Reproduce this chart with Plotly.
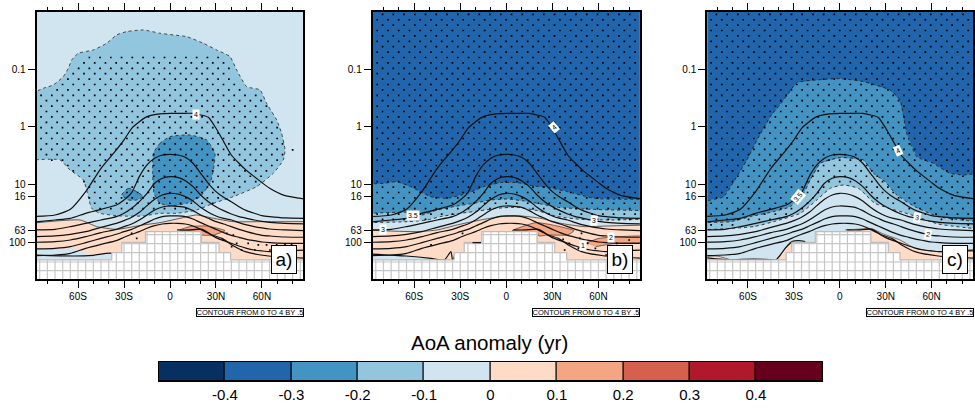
import plotly.graph_objects as go

# ---------- shared values (latitude in degrees, pressure as log10 hPa) ----------
LAT_ISO = [-90,-75,-65,-55,-45,-35,-30,-25,-20,-15,-10,-5,0,5,10,15,20,25,30,35,40,45,50,55,60,65,75,90]
ISO_40 = [1.555,1.526,1.428,1.121,.717,.399,.225,.023,-.092,-.179,-.214,-.231,-.237,-.237,-.237,-.237,-.208,-.168,.023,.254,.486,.63,.757,.861,.965,1.064,1.191,1.254]
ISO_35 = [1.653,1.613,1.584,1.497,1.428,1.353,1.266,1.139,.861,.659,.543,.486,.474,.486,.526,.63,.803,.977,1.121,1.22,1.295,1.382,1.451,1.497,1.538,1.555,1.578,1.584]
ISO_30 = [1.786,1.775,1.728,1.671,1.613,1.555,1.497,1.41,1.295,1.15,.977,.89,.861,.873,.931,1.035,1.179,1.295,1.382,1.451,1.509,1.555,1.584,1.613,1.636,1.653,1.671,1.682]
ISO_25 = [1.902,1.89,1.861,1.815,1.74,1.671,1.624,1.566,1.48,1.364,1.254,1.179,1.15,1.162,1.208,1.283,1.393,1.48,1.543,1.584,1.613,1.659,1.699,1.728,1.751,1.769,1.786,1.798]
ISO_20 = [2.0,1.988,1.96,1.902,1.832,1.775,1.728,1.682,1.613,1.526,1.439,1.387,1.37,1.376,1.393,1.451,1.526,1.584,1.642,1.682,1.728,1.775,1.815,1.85,1.879,1.89,1.908,1.913]
ISO_15 = [2.116,2.104,2.075,2.006,1.931,1.861,1.815,1.775,1.717,1.659,1.595,1.555,1.543,1.543,1.555,1.595,1.659,1.717,1.775,1.832,1.879,1.913,1.948,1.971,1.994,2.006,2.017,2.017]
ISO_10 = [2.231,2.22,2.191,2.104,2.035,1.971,1.913,1.861,1.815,1.757,1.711,1.682,1.671,1.671,1.682,1.717,1.775,1.844,1.919,1.971,2.017,2.064,2.104,2.133,2.15,2.162,2.145,2.133]
ISO_05N_LAT = [4.6,12.2,20.9,27.4,33.9,40.4,49.1,64.3,90]
ISO_05N = [1.786,1.786,1.775,1.873,1.931,2.046,2.162,2.237,2.277]
# the southern low-level isoline differs from panel to panel
A_05S_LAT = [-90,-63,-50,-38,-34.8]
A_05S = [2.22,2.237,2.225,2.191,2.306]
B_05S_LAT = [-90,-65.4,-49.1,-40.4,-36.1,-35,-33]
B_05S = [2.2,2.237,2.277,2.306,2.162,2.306,2.17]
B_05D_LAT = [-22,-16.5]
B_05D = [2.006,2.006]
C_05S_LAT = [-90,-71.5,-63.9,-48.7,-41.7,-35.7,-31.3,-27,-22.6]
C_05S = [2.26,2.306,2.295,2.295,2.306,2.104,1.988,1.971,1.988]

# colours
C_M05, C_M04, C_M03, C_M02, C_M01 = "#053061", "#2166ac", "#4393c3", "#92c5de", "#d1e5f0"
C_P01, C_P02, C_P03, C_P04, C_P05 = "#fddbc7", "#f4a582", "#d6604d", "#b2182b", "#67001f"
BAR_CENTERS = [-.45,-.35,-.25,-.15,-.05,.05,.15,.25,.35,.45]
BAR_COLORS = [C_M05,C_M04,C_M03,C_M02,C_M01,C_P01,C_P02,C_P03,C_P04,C_P05]
BAR_TICKS = [-.4,-.3,-.2,-.1,0,.1,.2,.3,.4]
BAR_LABELS = ["-0.4","-0.3","-0.2","-0.1","0","0.1","0.2","0.3","0.4"]

LAT_TICKS = [-60,-30,0,30,60]
LAT_LABELS = ["60S","30S","0","30N","60N"]
LAT_MINOR = [-80,-70,-60,-50,-40,-30,-20,-10,0,10,20,30,40,50,60,70,80]
P_TICKS = [0.1,1,10,16,63,100]
P_LABELS = ["0.1","1","10","16","63","100"]

# terrain mask
TERRAIN_TOP = [2.306,2.18,2.0,1.815,2.0,2.18,2.306]
A_TERRAIN_LAT = [-38,-31.5,-16,20.5,32,39.5]
B_TERRAIN_LAT = [-34,-27.4,-16,20.2,31.5,39.3]
C_TERRAIN_LAT = [-35,-31.3,-16,20.3,31.7,39.3]
MESH_LATS = [-85,-80,-75,-70,-65,-60,-55,-50,-45,-40,-35,-30,-25,-20,-15,-10,-5,0,5,10,15,20,25,30,35,40,45,50,55,60,65,70,75,80,85]
MESH_ROWS = [1.867,2.023,2.18,2.341,2.491]

# stipple lattice
STIP_ROWS = [-1.953,-1.859,-1.766,-1.672,-1.578,-1.485,-1.391,-1.298,-1.204,-1.11,-1.017,-.923,-.83,-.736,-.642,-.549,-.455,-.362,-.268,-.174,-.081,.013,.106,.2,.294,.387,.481,.574,.668,.762,.855,.949,1.042,1.136,1.23,1.323,1.417,1.51,1.604,1.698,1.791]
STIP_EVEN = [-80.6,-73.6,-66.6,-59.6,-52.6,-45.6,-38.6,-31.6,-24.6,-17.6,-10.6,-3.6,3.4,10.4,17.4,24.4,31.4,38.4,45.4,52.4,59.4,66.4,73.4,80.4]
STIP_ODD = [-84.1,-77.1,-70.1,-63.1,-56.1,-49.1,-42.1,-35.1,-28.1,-21.1,-14.1,-7.1,-.1,6.9,13.9,20.9,27.9,34.9,41.9,48.9,55.9,62.9,69.9,76.9,83.9]

# panel a
A_M01_LAT = [-90,-82.6,-76.1,-69.6,-66.3,-64.1,-59.8,-50,-41.3,-34.8,-28.3,-17.4,-6.5,2.2,10.9,21.7,30.4,39.1,43.5,50,58.7,63,69.6,72.8,75,73.9,67.4,56.5,41.3,28.3,17.4,4.3,-6.5,-17.4,-32.6,-45.7,-51.1,-53.3,-56.5,-65.2,-71.7,-90]
A_M01_P = [-.584,-.671,-.728,-.873,-1.017,-1.162,-1.277,-1.335,-1.451,-1.595,-1.653,-1.682,-1.624,-1.595,-1.566,-1.451,-1.335,-1.22,-.988,-.699,-.642,-.41,-.121,.11,.399,.572,.803,1.035,1.208,1.324,1.439,1.497,1.497,1.543,1.543,1.497,1.41,1.208,.919,.746,.572,.572]
A_M02_LAT = [0,-6.5,-10.9,-11.3,-10.4,-6.5,0,10.9,19.6,26.1,28.3,29.3,23.9,13]
A_M02_P = [.168,.283,.457,.803,1.15,1.324,1.37,1.324,1.208,.977,.746,.457,.225,.139]
A_M02B_LAT = [-31.5,-27.2,-21.7,-17.4,-21.7,-27.2]
A_M02B_P = [1.179,1.064,1.121,1.208,1.266,1.266]
A_P0_LAT = [-95,-58.7,-47.8,-34.8,-17.4,-6.5,6.5,17.4,28.3,41.3,58.7,95]
A_P0_P = [1.682,1.613,1.728,1.775,1.699,1.659,1.584,1.526,1.584,1.642,1.642,1.642]
A_P0L_LAT = [-95,-63,-50,-38,-30]
A_P0L_P = [2.133,2.104,2.237,2.18,2.16]
A_P1_LAT = [6.5,13,23.9,35.9,28.3,20.6,18]
A_P1_P = [1.786,1.728,1.717,1.798,1.873,1.873,1.815]
A_SIG_LAT = [-56.5,28.3,39.1,41.3,50,60.9,69.6,76.1,75,63,45.7,28.3,13,-6.5,-45.7,-52.2,-53.9,-58.7,-69.6,-90,-90,-76.1,-66.3]
A_SIG_P = [-1.22,-1.249,-1.162,-.873,-.555,-.584,-.064,.283,.514,.861,1.092,1.324,1.41,1.468,1.468,1.382,1.15,.861,.63,.543,-.526,-.584,-.873]
A_DOT_LAT = [37,41.3,34.8,40.2,43.5,46.7,51,57.6,55.4,63,65.2,69.6,75,79.3,-25,-21.7,80]
A_DOT_P = [1.844,1.873,1.96,2.075,2.017,2.133,2.017,2.046,2.133,2.046,2.133,2.046,2.046,2.035,1.844,1.931,.399]

# panel b
B_B1_LAT = [-90,-79.8,-71.1,-62.4,-55.9,-49.3,-38.5,-25.4,-14.6,-3.7,7.2,18,26.7,39.8,57.2,74.6,90]
B_B1_P = [.988,.977,.948,1.035,1.121,1.208,1.237,1.15,1.035,.965,.965,1.023,1.046,1.121,1.237,1.254,1.254]
B_B2_LAT = [-90,-62.4,-54.8,-45,-32,-21.1,-10.2,.7,11.5,22.4,33.3,55,90]
B_B2_P = [1.497,1.48,1.526,1.439,1.37,1.324,1.266,1.249,1.283,1.335,1.393,1.428,1.451]
B_B3_LAT = [-90,-64.6,-51.5,-42.8,-29.8,-16.7,-5.9,7.2,20.2,33.3,48.5,65.9,90]
B_B3_P = [1.659,1.642,1.613,1.555,1.497,1.451,1.41,1.393,1.451,1.555,1.601,1.613,1.601]
B_B4_LAT = [-95,-58,-45,-32,-16.7,-3.7,9.3,22.4,35.4,50.7,65.9,95]
B_B4_P = [1.786,1.815,1.786,1.699,1.613,1.555,1.543,1.584,1.671,1.728,1.717,1.699]
B_B4L_LAT = [-95,-68,-50,-40,-25]
B_B4L_P = [2.21,2.22,2.277,2.306,2.306]
B_P1_LAT = [3.9,19.1,30,44.1,39.8,26.7,21.3,20]
B_P1_P = [1.798,1.659,1.699,1.798,1.873,1.873,1.89,1.83]
B_P2_LAT = [51.7,60.4,95,95,71.3,58.3]
B_P2_P = [2.017,1.931,1.902,1.988,2.017,2.075]
B_DOT_LAT = [49,37,41,48,38,47,58,65,53,72,80,-28.5,-49]
B_DOT_P = [1.844,1.948,2.017,1.931,2.133,2.104,2.104,2.22,2.017,2.017,1.96,1.844,2.046]

# panel c
C_B1_LAT = [-90,-75.9,-69.3,-60.7,-54.1,-45.4,-36.7,-28,-15,.2,15.4,32.8,39.3,43.7,50.2,61.1,72,80.7,90]
C_B1_P = [1.295,1.208,.948,.572,.225,-.179,-.468,-.769,-.815,-.838,-.786,-.642,-.468,.11,.514,.63,.803,.832,.803]
C_B2_LAT = [-90,-71.5,-58.5,-43.3,-32.4,-23.7,-19.3,-12.8,.2,15.4,22,29.6,37.2,49.1,64.3,90]
C_B2_P = [1.659,1.642,1.555,1.468,1.382,1.15,.919,.63,.532,.572,.803,.948,1.179,1.382,1.555,1.642]
C_B3_LAT = [-90,-56.3,-43.3,-25.9,-15,-6.3,2.4,12.2,23,47,64.3,90]
C_B3_P = [1.786,1.728,1.642,1.497,1.266,1.064,1.006,1.064,1.324,1.526,1.682,1.769]
C_P0_LAT = [3.5,10,20.9,27.4,39.3,49.1,64.3,95,95,3.5]
C_P0_P = [1.786,1.775,1.763,1.844,1.96,2.104,2.162,2.191,2.7,2.7]
C_P0B_LAT = [-41.7,-34.6,-31.7,-31,-35]
C_P0B_P = [2.306,2.075,2.006,2.2,2.306]
C_P0C_LAT = [-95,-80,-71,-95]
C_P0C_P = [2.25,2.24,2.31,2.31]
C_DOT_LAT = []
C_DOT_P = []

PX_L = [36.7, 373.5, 708.7]
PX_R = [304.0, 641.2, 975.0]
X_RANGES = [[-87, 87], [-87, 87], [-86.6, 87]]
W, H = 975, 408
FONT = "Liberation Sans"
TOP, BOTTOM = -3.0, 2.8


def pr(vals):
    return [None if v is None else 10 ** v for v in vals]


def inside(x, y, px, py):
    c = False
    n = len(px)
    j = n - 1
    for i in range(n):
        if (py[i] > y) != (py[j] > y) and x < (px[j] - px[i]) * (y - py[i]) / (py[j] - py[i]) + px[i]:
            c = not c
        j = i
    return c


fig = go.Figure()


def poly(n, lat, lp, color, dash="dot", lw=0.8, spline=True):
    fig.add_trace(go.Scatter(
        x=list(lat), y=pr(lp), mode="lines", fill="toself", fillcolor=color,
        line=dict(color="#222222", width=lw, dash=dash, shape="spline" if spline else "linear", smoothing=0.5),
        hoverinfo="skip", showlegend=False, xaxis=f"x{n}", yaxis=f"y{n}"))


def seg(n, lat, lp, width=1.2):
    fig.add_trace(go.Scatter(x=list(lat), y=pr(lp), mode="lines",
                             line=dict(color="#111111", width=width, shape="spline", smoothing=0.6),
                             hoverinfo="skip", showlegend=False, xaxis=f"x{n}", yaxis=f"y{n}"))


def band(n, lat, lp, color, dash="dot"):
    fig.add_trace(go.Scatter(x=[-95] + list(lat) + [95, 95, -95],
                             y=pr([lp[0]] + list(lp) + [lp[-1], BOTTOM, BOTTOM]),
                             mode="lines", fill="toself", fillcolor=color, line=dict(width=0),
                             hoverinfo="skip", showlegend=False, xaxis=f"x{n}", yaxis=f"y{n}"))
    fig.add_trace(go.Scatter(x=list(lat), y=pr(lp), mode="lines",
                             line=dict(color="#222222", width=0.9, dash=dash, shape="spline", smoothing=0.5),
                             hoverinfo="skip", showlegend=False, xaxis=f"x{n}", yaxis=f"y{n}"))


def wedge(n, top_lat, top_p, low_lat, low_p, color):
    xs = list(top_lat) + [95, 95] + [low_lat[-1]] + list(low_lat[::-1])
    ys = list(top_p) + [top_p[-1], BOTTOM] + [BOTTOM] + list(low_p[::-1])
    fig.add_trace(go.Scatter(x=xs, y=pr(ys), mode="lines", fill="toself", fillcolor=color, line=dict(width=0),
                             hoverinfo="skip", showlegend=False, xaxis=f"x{n}", yaxis=f"y{n}"))
    fig.add_trace(go.Scatter(x=list(top_lat), y=pr(top_p), mode="lines",
                             line=dict(color="#222222", width=0.7, shape="spline", smoothing=0.5),
                             hoverinfo="skip", showlegend=False, xaxis=f"x{n}", yaxis=f"y{n}"))


def full(n, color):
    poly(n, [-95, 95, 95, -95], [TOP, TOP, BOTTOM, BOTTOM], color, "solid", 0, False)


def isolines(n, south_lat, south):
    for lat, vals in [(LAT_ISO, ISO_40), (LAT_ISO, ISO_35), (LAT_ISO, ISO_30), (LAT_ISO, ISO_25),
                      (LAT_ISO, ISO_20), (LAT_ISO, ISO_15), (LAT_ISO, ISO_10),
                      (south_lat, south), (ISO_05N_LAT, ISO_05N)]:
        seg(n, lat, vals)


def dots(n, sig_lat, sig_p, extra_lat, extra_p, offset=0.0):
    xs, ys = [], []
    sp = [v + offset for v in sig_p]
    for k, row in enumerate(STIP_ROWS):
        for la in (STIP_EVEN if k % 2 == 0 else STIP_ODD):
            if inside(la, row, sig_lat, sp):
                xs.append(la)
                ys.append(row)
    xs += extra_lat
    ys += extra_p
    fig.add_trace(go.Scatter(x=xs, y=pr(ys), mode="markers",
                             marker=dict(symbol="square", size=1.7, color="#000000", line=dict(width=0)),
                             hoverinfo="skip", showlegend=False, xaxis=f"x{n}", yaxis=f"y{n}"))


def terrain(n, steps):
    edges = [-95] + list(steps) + [95]
    xs, ys = [], []
    for i, top in enumerate(TERRAIN_TOP):
        xs += [edges[i], edges[i + 1]]
        ys += [top, top]
    poly_x = xs + [95, -95]
    poly_y = ys + [BOTTOM, BOTTOM]
    fig.add_trace(go.Scatter(x=poly_x, y=pr(poly_y), mode="lines", fill="toself", fillcolor="#ffffff",
                             line=dict(color="#bdbdbd", width=1.2), hoverinfo="skip", showlegend=False,
                             xaxis=f"x{n}", yaxis=f"y{n}"))
    top_at = lambda la: next(TERRAIN_TOP[i] for i in range(len(TERRAIN_TOP)) if la < edges[i + 1])
    mx, my = [], []
    for la in MESH_LATS:
        mx += [la, la, None]
        my += [top_at(la), BOTTOM, None]
    for row in MESH_ROWS:
        for i, top in enumerate(TERRAIN_TOP):
            if top < row:
                mx += [edges[i], edges[i + 1], None]
                my += [row, row, None]
    fig.add_trace(go.Scatter(x=mx, y=pr(my), mode="lines", line=dict(color="#c6c6c6", width=1.2),
                             hoverinfo="skip", showlegend=False, xaxis=f"x{n}", yaxis=f"y{n}"))


# ---- panel a ----
full(1, C_M01)
poly(1, A_M01_LAT, A_M01_P, C_M02)
poly(1, A_M02_LAT + A_M02_LAT[:1], A_M02_P + A_M02_P[:1], C_M03)
poly(1, A_M02B_LAT + A_M02B_LAT[:1], A_M02B_P + A_M02B_P[:1], C_M03)
wedge(1, A_P0_LAT, A_P0_P, A_P0L_LAT, A_P0L_P, C_P01)
poly(1, A_P1_LAT + A_P1_LAT[:1], A_P1_P + A_P1_P[:1], C_P02, "solid", 0.6)
isolines(1, A_05S_LAT, A_05S)
dots(1, A_SIG_LAT, A_SIG_P, A_DOT_LAT, A_DOT_P)
terrain(1, A_TERRAIN_LAT)

# ---- panel b ----
full(2, C_M04)
band(2, B_B1_LAT, B_B1_P, C_M03)
band(2, B_B2_LAT, B_B2_P, C_M02)
band(2, B_B3_LAT, B_B3_P, C_M01)
wedge(2, B_B4_LAT, B_B4_P, B_B4L_LAT, B_B4L_P, C_P01)
poly(2, B_P1_LAT + B_P1_LAT[:1], B_P1_P + B_P1_P[:1], C_P02, "solid", 0.6)
poly(2, B_P2_LAT, B_P2_P, C_P02, "solid", 0.6)
isolines(2, B_05S_LAT, B_05S)
dots(2, [-95] + B_B3_LAT + [95, 95, -95], [B_B3_P[0]] + B_B3_P + [B_B3_P[-1], TOP, TOP], B_DOT_LAT, B_DOT_P)
terrain(2, B_TERRAIN_LAT)
seg(2, B_05D_LAT, B_05D)

# ---- panel c ----
full(3, C_M04)
band(3, C_B1_LAT, C_B1_P, C_M03)
band(3, C_B2_LAT, C_B2_P, C_M02)
band(3, C_B3_LAT, C_B3_P, C_M01)
poly(3, C_P0_LAT, C_P0_P, C_P01, "solid", 0.6)
poly(3, C_P0B_LAT, C_P0B_P, C_P01, "solid", 0.6)
poly(3, C_P0C_LAT, C_P0C_P, C_P01, "solid", 0.6)
isolines(3, C_05S_LAT, C_05S)
dots(3, [-95] + C_B3_LAT + [95, 95, -95], [C_B3_P[0]] + C_B3_P + [C_B3_P[-1], TOP, TOP], C_DOT_LAT, C_DOT_P, -0.05)
terrain(3, C_TERRAIN_LAT)

# ---- colour bar ----
fig.add_trace(go.Bar(x=BAR_CENTERS, y=[1] * 10, width=0.1, marker=dict(color=BAR_COLORS, line=dict(color="#000000", width=1)),
                     hoverinfo="skip", showlegend=False, xaxis="x4", yaxis="y4"))

layout = dict(width=W, height=H, margin=dict(l=0, r=0, t=0, b=0), paper_bgcolor="white", plot_bgcolor="white",
              font=dict(family=FONT, color="#000000"), showlegend=False, bargap=0)
ydom = [(H - 279) / H, (H - 12) / H]
for i in range(3):
    s = "" if i == 0 else str(i + 1)
    layout[f"xaxis{s}"] = dict(
        domain=[PX_L[i] / W, PX_R[i] / W], range=X_RANGES[i], anchor=f"y{s}", tickmode="array",
        tickvals=LAT_TICKS, ticktext=LAT_LABELS, ticks="outside", ticklen=7, tickwidth=1, tickcolor="#000",
        tickfont=dict(size=10, family=FONT), showgrid=False, zeroline=False, showline=True, linewidth=2,
        linecolor="#000", mirror="ticks",
        minor=dict(tickvals=LAT_MINOR, ticks="outside", ticklen=3, tickwidth=1, tickcolor="#000", showgrid=False))
    layout[f"yaxis{s}"] = dict(
        domain=ydom, type="log", range=[2.636, -1.993], anchor=f"x{s}", tickmode="array", tickvals=P_TICKS,
        ticktext=P_LABELS, ticks="outside", ticklen=7, tickwidth=1, tickcolor="#000",
        tickfont=dict(size=10, family=FONT), showgrid=False, zeroline=False, showline=True, linewidth=2,
        linecolor="#000", mirror=True)
layout["xaxis4"] = dict(domain=[159 / W, 824 / W], range=[-.5, .5], anchor="y4", tickmode="array", tickvals=BAR_TICKS,
                        ticktext=BAR_LABELS, ticks="", tickfont=dict(size=15, family=FONT), showgrid=False,
                        zeroline=False, showline=True, linewidth=1, linecolor="#000", mirror=True)
layout["yaxis4"] = dict(domain=[(H - 381) / H, (H - 362) / H], range=[0, 1], anchor="x4", showticklabels=False,
                        ticks="", showgrid=False, zeroline=False, showline=True, linewidth=1, linecolor="#000", mirror=True)

ann = [dict(text="AoA anomaly (yr)", x=491 / W, y=(H - 342) / H, xref="paper", yref="paper", showarrow=False,
            xanchor="center", yanchor="middle", font=dict(size=20.5, family=FONT))]
BOX_XC = [285.0, 621.5, 957.0]
for t, xc in zip(["a)", "b)", "c)"], BOX_XC):
    ann.append(dict(text=t, x=xc / W, y=(H - 259.7) / H, xref="paper", yref="paper", showarrow=False,
                    xanchor="center", yanchor="middle", width=22, height=25, bgcolor="white",
                    bordercolor="#000", borderwidth=1, font=dict(size=19, family=FONT)))
CONTOUR_XC = [250.3, 587.0, 921.5]
for xc in CONTOUR_XC:
    ann.append(dict(text="CONTOUR FROM 0 TO 4 BY .5", x=xc / W, y=(H - 312.5) / H, xref="paper", yref="paper",
                    xanchor="center", yanchor="middle", showarrow=False, width=106, height=7, bgcolor="white",
                    bordercolor="#000", borderwidth=1, borderpad=0, font=dict(size=7.5, family=FONT)))
LABELS = [
    (1, 16.7, -.22, "4", 0), (2, 31, .006, "4", -40), (2, -61, 1.53, "3.5", 0), (2, -80, 1.775, "3", 0),
    (2, 57.2, 1.624, "3", 5), (2, 68.5, 1.908, "2", 0), (2, 50, 2.058, "1", 0),
    (3, 38.3, .405, "4", -25), (3, -27, 1.208, "3.5", -50), (3, 50.2, 1.578, "3", 10), (3, 57.8, 1.867, "2", 10),
]
for n, la, lp, t, ang in LABELS:
    s = "" if n == 1 else str(n)
    ann.append(dict(text=t, x=la, y=lp, xref=f"x{s}", yref=f"y{s}", showarrow=False, textangle=ang,
                    xanchor="center", yanchor="middle", bgcolor="white", borderpad=1, font=dict(size=7, family=FONT)))
layout["annotations"] = ann
fig.update_layout(**layout)
fig.write_html("out.html", config={"displayModeBar": False},
               post_script="document.body.style.margin='0';document.documentElement.style.overflow='hidden';")
